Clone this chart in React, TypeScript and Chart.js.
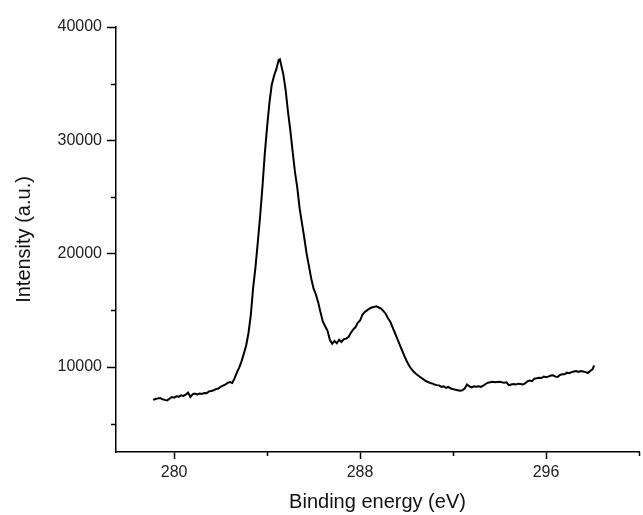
import React, { useEffect, useRef } from 'react';
import { Chart, registerables } from 'chart.js';

Chart.register(...registerables);

const energy = [
  279.1, 279.2, 279.3, 279.4, 279.5, 279.6, 279.7, 279.8, 279.9, 280.0,
  280.1, 280.2, 280.3, 280.4, 280.5, 280.6, 280.7, 280.8, 280.9, 281.0,
  281.1, 281.2, 281.3, 281.4, 281.5, 281.6, 281.7, 281.8, 281.9, 282.0,
  282.1, 282.2, 282.3, 282.4, 282.5, 282.6, 282.7, 282.8, 282.9, 283.0,
  283.1, 283.2, 283.3, 283.4, 283.5, 283.6, 283.7, 283.8, 283.9, 284.0,
  284.1, 284.2, 284.3, 284.4, 284.5, 284.55, 284.6, 284.7, 284.8, 284.9,
  285.0, 285.1, 285.2, 285.3, 285.4, 285.5, 285.6, 285.7, 285.8, 285.9,
  286.0, 286.1, 286.2, 286.3, 286.4, 286.5, 286.6, 286.7, 286.8, 286.9,
  287.0, 287.1, 287.2, 287.3, 287.4, 287.5, 287.6, 287.7, 287.8, 287.9,
  288.0, 288.1, 288.2, 288.3, 288.4, 288.5, 288.6, 288.7, 288.8, 288.9,
  289.0, 289.1, 289.2, 289.3, 289.4, 289.5, 289.6, 289.7, 289.8, 289.9,
  290.0, 290.1, 290.2, 290.3, 290.4, 290.5, 290.6, 290.7, 290.8, 290.9,
  291.0, 291.1, 291.2, 291.3, 291.4, 291.5, 291.6, 291.7, 291.8, 291.9,
  292.0, 292.1, 292.2, 292.3, 292.4, 292.5, 292.6, 292.7, 292.8, 292.9,
  293.0, 293.1, 293.2, 293.3, 293.4, 293.5, 293.6, 293.7, 293.8, 293.9,
  294.0, 294.1, 294.2, 294.3, 294.4, 294.5, 294.6, 294.7, 294.8, 294.9,
  295.0, 295.1, 295.2, 295.3, 295.4, 295.5, 295.6, 295.7, 295.8, 295.9,
  296.0, 296.1, 296.2, 296.3, 296.4, 296.5, 296.6, 296.7, 296.8, 296.9,
  297.0, 297.1, 297.2, 297.3, 297.4, 297.5, 297.6, 297.7, 297.8, 297.9,
  298.0, 298.07,
];

const intensity = [
  7100, 7180, 7230, 7270, 7150, 7100, 7060, 7200, 7350, 7300,
  7420, 7380, 7500, 7450, 7550, 7740, 7350, 7600, 7650, 7580,
  7650, 7620, 7710, 7680, 7850, 7880, 7950, 8050, 8100, 8250,
  8350, 8450, 8600, 8680, 8590, 9000, 9500, 9950, 10500, 11180,
  11900, 13000, 14600, 17000, 18800, 21000, 23300, 25900, 28800, 31170,
  33300, 34900, 35700, 36300, 37100, 37150, 36700, 35800, 34400, 32500,
  30880, 29000, 27200, 25800, 24000, 22700, 21400, 20000, 18900, 17800,
  16910, 16400, 15700, 14800, 14000, 13600, 13200, 12400, 12050, 12300,
  12100, 12400, 12200, 12450, 12500, 12650, 13000, 13300, 13500, 13900,
  14100, 14600, 14850, 15000, 15150, 15250, 15300, 15350, 15250, 15150,
  14950, 14700, 14300, 14000, 13500, 13000, 12500, 12000, 11500, 11000,
  10550, 10150, 9850, 9600, 9400, 9250, 9100, 8950, 8800, 8700,
  8600, 8550, 8450, 8400, 8380, 8250, 8300, 8150, 8240, 8100,
  8050, 8000, 7950, 7900, 7950, 8100, 8450, 8300, 8200, 8300,
  8250, 8300, 8250, 8350, 8500, 8620, 8650, 8700, 8650, 8680,
  8700, 8650, 8620, 8650, 8400, 8450, 8500, 8450, 8530, 8500,
  8450, 8550, 8740, 8800, 8750, 8970, 9000, 9050, 9030, 9150,
  9100, 9150, 9250, 9270, 9150, 9120, 9300, 9350, 9350, 9500,
  9450, 9550, 9600, 9650, 9560, 9650, 9600, 9550, 9470, 9650,
  9800, 10150,
];

const xTickValues = [280, 284, 288, 292, 296, 300];
const xMajorLabels = [280, 288, 296];
const yTickValues = [5000, 10000, 15000, 20000, 25000, 30000, 35000, 40000];
const yMajorLabels = [10000, 20000, 30000, 40000];

const FONT = "'Liberation Sans', Arial, Helvetica, sans-serif";

export default function App() {
  const ref = useRef<HTMLCanvasElement | null>(null);

  useEffect(() => {
    document.body.style.margin = '0';
    const canvas = ref.current;
    if (!canvas) return;

    const minorTicks = {
      id: 'minorTicks',
      afterDraw(chart: any) {
        const ctx = chart.ctx;
        const xs = chart.scales.x;
        const ys = chart.scales.y;
        ctx.save();
        ctx.strokeStyle = '#000';
        ctx.lineWidth = 1.5;
        ctx.beginPath();
        xs.ticks.forEach((t: any) => {
          if (xMajorLabels.includes(t.value)) return;
          const px = Math.round(xs.getPixelForValue(t.value)) + 0.5;
          ctx.moveTo(px, xs.top);
          ctx.lineTo(px, xs.top + 4);
        });
        ys.ticks.forEach((t: any) => {
          if (yMajorLabels.includes(t.value)) return;
          const py = Math.round(ys.getPixelForValue(t.value)) + 0.5;
          ctx.moveTo(ys.right, py);
          ctx.lineTo(ys.right - 5, py);
        });
        ctx.stroke();
        ctx.restore();
      },
    };

    const chart = new Chart(canvas, {
      type: 'scatter',
      data: {
        datasets: [
          {
            data: energy.map((x, i) => ({ x, y: intensity[i] })),
            showLine: true,
            borderColor: '#000',
            borderWidth: 2,
            pointRadius: 0,
            tension: 0,
            fill: false,
          },
        ],
      },
      options: {
        responsive: false,
        animation: false,
        layout: { padding: { left: 0, right: 3, top: 27, bottom: 0 } },
        plugins: {
          legend: { display: false },
          tooltip: { enabled: false },
        },
        scales: {
          x: {
            type: 'linear',
            min: 277.5,
            max: 300,
            afterBuildTicks: (s: any) => {
              s.ticks = xTickValues.map((v) => ({ value: v }));
            },
            ticks: {
              autoSkip: false,
              maxRotation: 0,
              padding: 4,
              color: '#222',
              font: { family: FONT, size: 16 },
              callback: (v: any) => (xMajorLabels.includes(Number(v)) ? String(v) : ''),
            },
            grid: {
              drawOnChartArea: false,
              tickLength: 7,
              tickWidth: 1.5,
              tickColor: (c: any) =>
                c.tick && xMajorLabels.includes(c.tick.value) ? '#000' : 'rgba(0,0,0,0)',
            },
            border: { color: '#000', width: 1.5 },
            title: {
              display: true,
              text: 'Binding energy (eV)',
              color: '#111',
              font: { family: FONT, size: 20, lineHeight: 1 },
              padding: { top: 0, bottom: 2.5 },
            },
            afterFit: (s: any) => {
              s.height = 63;
            },
          },
          y: {
            type: 'linear',
            min: 2500,
            max: 40000,
            afterBuildTicks: (s: any) => {
              s.ticks = yTickValues.map((v) => ({ value: v }));
            },
            ticks: {
              autoSkip: false,
              padding: 5,
              color: '#222',
              font: { family: FONT, size: 16 },
              callback: (v: any) => (yMajorLabels.includes(Number(v)) ? String(v) : ''),
            },
            grid: {
              drawOnChartArea: false,
              tickLength: 9,
              tickWidth: 1.5,
              tickColor: (c: any) =>
                c.tick && yMajorLabels.includes(c.tick.value) ? '#000' : 'rgba(0,0,0,0)',
            },
            border: { color: '#000', width: 1.5 },
            title: {
              display: true,
              text: 'Intensity (a.u.)',
              color: '#111',
              font: { family: FONT, size: 20, lineHeight: 1 },
              padding: { top: 14, bottom: 0 },
            },
            afterFit: (s: any) => {
              s.width = 116;
            },
          },
        },
      },
      plugins: [minorTicks],
    });

    return () => {
      chart.destroy();
    };
  }, []);

  return (
    <div style={{ width: 643, height: 515, background: '#fff' }}>
      <canvas ref={ref} width={643} height={515} style={{ display: 'block' }} />
    </div>
  );
}
